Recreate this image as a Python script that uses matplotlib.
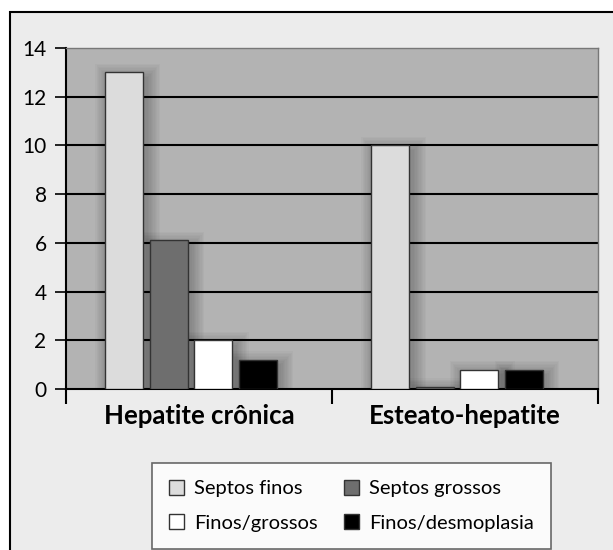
import matplotlib.pyplot as plt
from matplotlib.patches import Rectangle
import numpy as np

# Dados
categorias = ['Hepatite crônica', 'Esteato-hepatite']
series = ['Septos finos', 'Septos grossos', 'Finos/grossos', 'Finos/desmoplasia']
valores = [
    [13, 10],     # Septos finos
    [6.1, 0.1],   # Septos grossos
    [2, 0.8],     # Finos/grossos
    [1.2, 0.8],   # Finos/desmoplasia
]
cores = ['#dcdcdc', '#6e6e6e', '#ffffff', '#000000']
yticks = [0, 2, 4, 6, 8, 10, 12, 14]

plt.rcParams['font.family'] = ['Lato', 'DejaVu Sans']

fig = plt.figure(figsize=(6.13, 5.5), dpi=100)
fig.patch.set_facecolor('white')

# moldura externa cinza clara
fundo = Rectangle((10 / 613, -0.05), 1.1, 1 - 12 / 550 + 0.05,
                  transform=fig.transFigure, facecolor='#ececec',
                  edgecolor='black', linewidth=1.5, zorder=-10)
fig.patches.append(fundo)

ax = fig.add_axes([66 / 613, 1 - 389 / 550, 532 / 613, 341 / 550])
ax.set_facecolor('#b3b3b3')

x = np.arange(len(categorias))
largura = 0.143
passo = 0.167
desloc = (np.arange(len(series)) - 1.5) * passo - 0.03

# linhas de grade
for v in yticks[1:-1]:
    ax.axhline(v, color='black', linewidth=1.5, zorder=1)

barras = []
for i, nome in enumerate(series):
    xs = x + desloc[i]
    # sombra suave (desfocada)
    for k in range(1, 11):
        dx = 0.005 * k
        dy = 0.06 * k
        for xi, h in zip(xs, valores[i]):
            ax.add_patch(Rectangle((xi - largura / 2 - dx + 0.012, 0), largura + 2 * dx,
                                   h + dy - 0.25, facecolor='black', edgecolor='none',
                                   alpha=0.025, zorder=2))
    b = ax.bar(xs, valores[i], width=largura, color=cores[i], edgecolor='#333333',
               linewidth=1.0, label=nome, zorder=3)
    barras.append(b)

ax.set_xlim(-0.5, 1.5)
ax.set_ylim(0, 14)
ax.set_yticks(yticks)
ax.set_yticklabels([str(v) for v in yticks], fontsize=15)
ax.tick_params(axis='y', length=8, width=1.2, direction='out', pad=6)

ax.set_xticks([-0.5, 0.5, 1.5])
ax.set_xticklabels([])
ax.tick_params(axis='x', length=11, width=1.5, direction='out')
for xi, nome in zip(x, categorias):
    ax.text(xi, -1.1, nome, ha='center', va='center', fontsize=18.5,
            fontweight='bold', transform=ax.transData)

for s in ['left', 'bottom']:
    ax.spines[s].set_color('black')
    ax.spines[s].set_linewidth(1.5)
for s in ['top', 'right']:
    ax.spines[s].set_color('#777777')
    ax.spines[s].set_linewidth(1.0)

# ordem por linhas: finos, grossos / finos-grossos, desmoplasia
ordem = [0, 2, 1, 3]
leg = fig.legend([barras[i] for i in ordem], [series[i] for i in ordem],
                 loc='lower left', bbox_to_anchor=(152 / 613, 1 / 550),
                 ncol=2, fontsize=14.5, frameon=True, fancybox=False,
                 edgecolor='#444444', handlelength=0.75, handleheight=0.75,
                 handletextpad=0.5, columnspacing=1.3, borderpad=0.85,
                 labelspacing=0.85, borderaxespad=0)
leg.get_frame().set_linewidth(1.2)

fig.savefig('out.png', dpi=100, facecolor=fig.get_facecolor())
